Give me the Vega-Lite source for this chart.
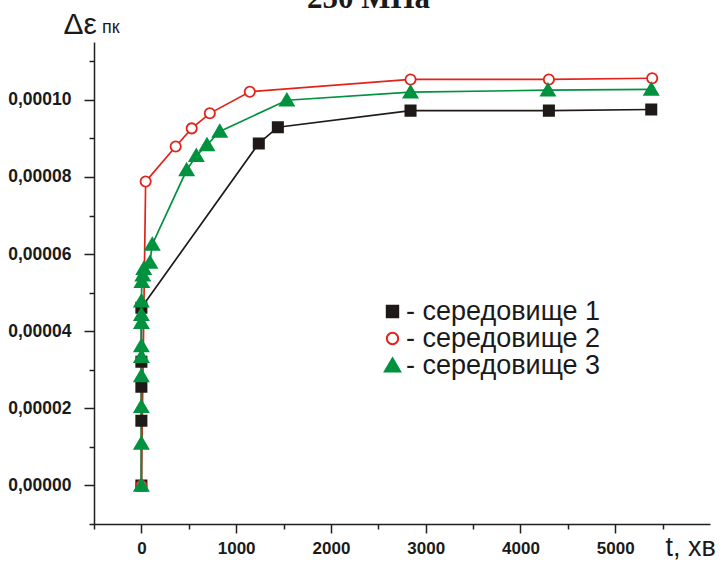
{
  "$schema": "https://vega.github.io/schema/vega-lite/v6.json",
  "width": 616,
  "height": 482,
  "autosize": {"type": "none"},
  "padding": {"left": 94, "top": 42, "right": 11, "bottom": 38},
  "background": "white",
  "config": {
    "view": {"stroke": null},
    "font": "Liberation Sans"
  },
  "title": {
    "text": "250 МПа",
    "font": "Liberation Serif",
    "fontSize": 31,
    "fontWeight": "bold",
    "color": "#1a1a1a",
    "anchor": "start",
    "frame": "group",
    "dx": 213,
    "offset": -30,
    "baseline": "alphabetic"
  },
  "data": {
    "values": [
      {"series": "середовище 1", "ord": 1, "t": 0, "e": 0},
      {"series": "середовище 1", "ord": 2, "t": 0, "e": 0.0000168},
      {"series": "середовище 1", "ord": 3, "t": 0, "e": 0.0000256},
      {"series": "середовище 1", "ord": 4, "t": 0, "e": 0.0000321},
      {"series": "середовище 1", "ord": 5, "t": 0, "e": 0.0000461},
      {"series": "середовище 1", "ord": 6, "t": 1239, "e": 0.0000887},
      {"series": "середовище 1", "ord": 7, "t": 1440, "e": 0.0000929},
      {"series": "середовище 1", "ord": 8, "t": 2840, "e": 0.0000972},
      {"series": "середовище 1", "ord": 9, "t": 4300, "e": 0.0000972},
      {"series": "середовище 1", "ord": 10, "t": 5380, "e": 0.0000975},
      {"series": "середовище 2", "ord": 1, "t": 0, "e": 0},
      {"series": "середовище 2", "ord": 2, "t": 45, "e": 0.0000788},
      {"series": "середовище 2", "ord": 3, "t": 362, "e": 0.0000879},
      {"series": "середовище 2", "ord": 4, "t": 531, "e": 0.0000926},
      {"series": "середовище 2", "ord": 5, "t": 722, "e": 0.0000965},
      {"series": "середовище 2", "ord": 6, "t": 1144, "e": 0.0001021},
      {"series": "середовище 2", "ord": 7, "t": 2840, "e": 0.0001053},
      {"series": "середовище 2", "ord": 8, "t": 4300, "e": 0.0001053},
      {"series": "середовище 2", "ord": 9, "t": 5390, "e": 0.0001056},
      {"series": "середовище 3", "ord": 1, "t": 0, "e": 0},
      {"series": "середовище 3", "ord": 2, "t": 0, "e": 0.0000109},
      {"series": "середовище 3", "ord": 3, "t": 0, "e": 0.0000204},
      {"series": "середовище 3", "ord": 4, "t": 0, "e": 0.0000284},
      {"series": "середовище 3", "ord": 5, "t": 0, "e": 0.0000334},
      {"series": "середовище 3", "ord": 6, "t": 0, "e": 0.0000362},
      {"series": "середовище 3", "ord": 7, "t": 0, "e": 0.0000422},
      {"series": "середовище 3", "ord": 8, "t": 0, "e": 0.0000443},
      {"series": "середовище 3", "ord": 9, "t": 0, "e": 0.0000478},
      {"series": "середовище 3", "ord": 10, "t": 5, "e": 0.0000528},
      {"series": "середовище 3", "ord": 11, "t": 15, "e": 0.0000545},
      {"series": "середовище 3", "ord": 12, "t": 25, "e": 0.0000562},
      {"series": "середовище 3", "ord": 13, "t": 90, "e": 0.0000578},
      {"series": "середовище 3", "ord": 14, "t": 115, "e": 0.0000625},
      {"series": "середовище 3", "ord": 15, "t": 478, "e": 0.0000818},
      {"series": "середовище 3", "ord": 16, "t": 580, "e": 0.0000855},
      {"series": "середовище 3", "ord": 17, "t": 692, "e": 0.0000883},
      {"series": "середовище 3", "ord": 18, "t": 827, "e": 0.0000918},
      {"series": "середовище 3", "ord": 19, "t": 1535, "e": 0.0000999},
      {"series": "середовище 3", "ord": 20, "t": 2840, "e": 0.000102},
      {"series": "середовище 3", "ord": 21, "t": 4290, "e": 0.0001025},
      {"series": "середовище 3", "ord": 22, "t": 5380, "e": 0.0001027}
    ]
  },
  "encoding": {
    "x": {
      "field": "t",
      "type": "quantitative",
      "scale": {"domain": [-500, 6000], "nice": false, "zero": false},
      "axis": {
        "title": "t, хв",
        "values": [-500, 0, 500, 1000, 1500, 2000, 2500, 3000, 3500, 4000, 4500, 5000, 5500],
        "format": "d",
        "labelExpr": "round(datum.value/500)%2==0 ? datum.label : ''",
        "labelFont": "Liberation Sans",
        "labelFontWeight": "bold",
        "labelFontSize": 17,
        "labelColor": "#1a1a1a",
        "labelPadding": 7,
        "labelFlush": false,
        "labelOverlap": false,
        "tickSize": {"condition": {"test": "round(datum.value/500)%2==0", "value": 9}, "value": 5},
        "tickColor": "#231f20",
        "tickWidth": 1.5,
        "domainColor": "#231f20",
        "domainWidth": 1.5,
        "grid": false,
        "titleFont": "Liberation Sans",
        "titleFontWeight": "normal",
        "titleFontSize": 27,
        "titleColor": "#1a1a1a",
        "titleX": 571,
        "titleY": 31,
        "titleAlign": "left",
        "titleBaseline": "alphabetic"
      }
    },
    "y": {
      "field": "e",
      "type": "quantitative",
      "scale": {"domain": [-0.00001, 0.000115], "nice": false, "zero": false},
      "axis": {
        "title": "Δε",
        "values": [-0.00001, 0, 0.00001, 0.00002, 0.00003, 0.00004, 0.00005, 0.00006, 0.00007, 0.00008, 0.00009, 0.0001, 0.00011],
        "labelExpr": "round(datum.value*100000)%2==0 ? replace(format(datum.value,'.5f'),'.',',') : ''",
        "labelFont": "Liberation Sans",
        "labelFontWeight": "bold",
        "labelFontSize": 17.5,
        "labelColor": "#1a1a1a",
        "labelPadding": 13,
        "labelOverlap": false,
        "tickSize": {"condition": {"test": "round(datum.value*100000)%2==0", "value": 10}, "value": 5},
        "tickColor": "#231f20",
        "tickWidth": 1.5,
        "domainColor": "#231f20",
        "domainWidth": 1.5,
        "grid": false,
        "titleFont": "Liberation Sans",
        "titleFontWeight": "normal",
        "titleFontSize": 30,
        "titleColor": "#1a1a1a",
        "titleAngle": 0,
        "titleX": -31,
        "titleY": -9,
        "titleAlign": "left",
        "titleBaseline": "alphabetic"
      }
    }
  },
  "layer": [
    {
      "transform": [{"filter": "datum.series == 'середовище 1'"}],
      "mark": {"type": "line", "strokeWidth": 1.7, "color": "#1f1a17"},
      "encoding": {"order": {"field": "ord", "type": "quantitative"}}
    },
    {
      "transform": [{"filter": "datum.series == 'середовище 2'"}],
      "mark": {"type": "line", "strokeWidth": 1.7, "color": "#e2231a"},
      "encoding": {"order": {"field": "ord", "type": "quantitative"}}
    },
    {
      "transform": [{"filter": "datum.series == 'середовище 3'"}],
      "mark": {"type": "line", "strokeWidth": 1.7, "color": "#00923f"},
      "encoding": {"order": {"field": "ord", "type": "quantitative"}}
    },
    {
      "mark": {"type": "point", "filled": true, "strokeWidth": 1.8, "opacity": 1, "size": 105},
      "encoding": {
        "shape": {
          "field": "series",
          "type": "nominal",
          "scale": {"domain": ["середовище 1", "середовище 2", "середовище 3"], "range": ["square", "circle", "M0,-1.25L1.35,1.05L-1.35,1.05Z"]},
          "legend": {"title": null, "labelExpr": "'- ' + datum.label", "orient": "none", "legendX": 285, "legendY": 256, "padding": 0, "labelFont": "Liberation Sans", "labelFontSize": 27, "labelColor": "#1a1a1a", "labelOffset": 0, "rowPadding": -1.5, "symbolStrokeWidth": 2, "symbolSize": 130, "labelLimit": 400}
        },
        "fill": {
          "field": "series",
          "type": "nominal",
          "scale": {"domain": ["середовище 1", "середовище 2", "середовище 3"], "range": ["#1f1a17", "#ffffff", "#00923f"]},
          "legend": {"title": null, "labelExpr": "'- ' + datum.label", "orient": "none", "legendX": 285, "legendY": 256, "padding": 0, "labelFont": "Liberation Sans", "labelFontSize": 27, "labelColor": "#1a1a1a", "labelOffset": 0, "rowPadding": -1.5, "symbolStrokeWidth": 2, "symbolSize": 130, "labelLimit": 400}
        },
        "stroke": {
          "field": "series",
          "type": "nominal",
          "scale": {"domain": ["середовище 1", "середовище 2", "середовище 3"], "range": ["#1f1a17", "#e2231a", "#00923f"]},
          "legend": {"title": null, "labelExpr": "'- ' + datum.label", "orient": "none", "legendX": 285, "legendY": 256, "padding": 0, "labelFont": "Liberation Sans", "labelFontSize": 27, "labelColor": "#1a1a1a", "labelOffset": 0, "rowPadding": -1.5, "symbolStrokeWidth": 2, "symbolSize": 130, "labelLimit": 400}
        }
      }
    },
    {
      "data": {"values": [{"txt": "пк", "tx": -500, "ty": 0.000115}]},
      "mark": {"type": "text", "align": "left", "baseline": "alphabetic", "dx": 8, "dy": -9, "fontSize": 18, "font": "Liberation Sans", "color": "#1a1a1a", "clip": false},
      "encoding": {
        "x": {"field": "tx", "type": "quantitative"},
        "y": {"field": "ty", "type": "quantitative"},
        "text": {"field": "txt", "type": "nominal"}
      }
    }
  ]
}
